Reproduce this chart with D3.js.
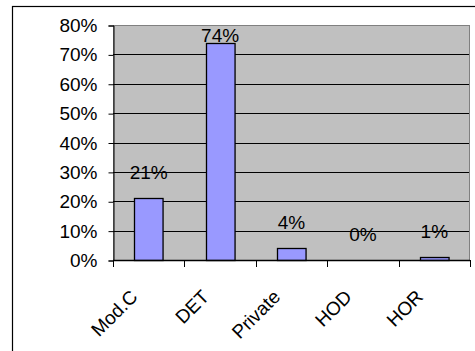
<!DOCTYPE html>
<html>
<head>
<meta charset="utf-8">
<script src="https://cdn.jsdelivr.net/npm/d3@7"></script>
<style>
  html, body { margin: 0; padding: 0; background: #fff; }
  svg { display: block; }
  text { font-family: "Liberation Sans", Arial, sans-serif; fill: #000; }
</style>
</head>
<body>
<svg id="chart" width="475" height="351"></svg>
<script>
// Share of cases by category
const categories = ["Mod.C", "DET", "Private", "HOD", "HOR"];
const values = [0.21, 0.74, 0.04, 0.00, 0.01];
const yTicks = [0, 0.1, 0.2, 0.3, 0.4, 0.5, 0.6, 0.7, 0.8];

const svg = d3.select("#chart");
const W = 475, H = 351;
const plot = { left: 113, top: 25, right: 470, bottom: 260 };
const fontSize = 19;

// outer chart frame (extends past the visible window on the right and bottom)
svg.append("rect")
  .attr("x", 12.5).attr("y", 6.5)
  .attr("width", W + 10).attr("height", H + 10)
  .attr("fill", "#fff").attr("stroke", "#000").attr("stroke-width", 1.2);

const x = d3.scaleBand().domain(categories)
  .range([plot.left, plot.right]).paddingInner(0.6).paddingOuter(0.3);
const xBand = d3.scaleBand().domain(categories).range([plot.left, plot.right]);
const y = d3.scaleLinear().domain([0, 0.8]).range([plot.bottom, plot.top]);

// plot area background
svg.append("rect")
  .attr("x", plot.left + 0.5).attr("y", y(0.8) + 0.5)
  .attr("width", plot.right - plot.left - 1).attr("height", y(0) - y(0.8))
  .attr("fill", "#C0C0C0").attr("stroke", "#808080").attr("stroke-width", 1);

// horizontal gridlines
svg.append("g").selectAll("line")
  .data(yTicks.filter(t => t > 0 && t < 0.8))
  .join("line")
  .attr("x1", plot.left).attr("x2", plot.right - 1)
  .attr("y1", d => Math.round(y(d)) + 0.5).attr("y2", d => Math.round(y(d)) + 0.5)
  .attr("stroke", "#000").attr("stroke-width", 1);

// y axis
const yAxis = d3.axisLeft(y).tickValues(yTicks)
  .tickFormat(d3.format(".0%")).tickSize(5).tickPadding(11);
const gy = svg.append("g")
  .attr("transform", `translate(${plot.left + 0.5},0.5)`)
  .call(yAxis);
gy.select(".domain").attr("stroke", "#000");
gy.selectAll(".tick line").attr("stroke", "#000");
gy.selectAll(".tick text")
  .attr("font-size", fontSize)
  .attr("font-family", "Liberation Sans, Arial, sans-serif")
  .attr("fill", "#000");

// bars
svg.append("g").selectAll("rect")
  .data(values)
  .join("rect")
  .attr("x", (d, i) => Math.round(x(categories[i])) + 0.5)
  .attr("y", d => Math.round(y(d)) + 0.5)
  .attr("width", x.bandwidth())
  .attr("height", d => Math.max(0, y(0) - Math.round(y(d))))
  .attr("fill", "#9999FF").attr("stroke", "#000").attr("stroke-width", 1.3)
  .attr("display", d => d > 0 ? null : "none");

// x axis line with boundary ticks
svg.append("line")
  .attr("x1", plot.left).attr("x2", plot.right)
  .attr("y1", y(0) + 0.5).attr("y2", y(0) + 0.5)
  .attr("stroke", "#000").attr("stroke-width", 1.3);
const boundaries = categories.map(c => xBand(c)).concat([plot.right]);
svg.append("g").selectAll("line")
  .data(boundaries)
  .join("line")
  .attr("x1", d => Math.round(d) + 0.5).attr("x2", d => Math.round(d) + 0.5)
  .attr("y1", y(0)).attr("y2", y(0) + 7)
  .attr("stroke", "#000").attr("stroke-width", 1);

// category labels, rotated
svg.append("g").selectAll("text")
  .data(categories)
  .join("text")
  .attr("transform", c => `translate(${xBand(c) + xBand.bandwidth() / 2 - 10},${y(0) + 38}) rotate(-45)`)
  .attr("text-anchor", "end")
  .attr("font-size", fontSize)
  .text(c => c);

// value labels above bars, kept inside the plot area
svg.append("g").selectAll("text")
  .data(values)
  .join("text")
  .attr("x", (d, i) => x(categories[i]) + x.bandwidth() / 2)
  .attr("y", d => Math.max(y(d) - 19, y(0.8) + 17))
  .attr("text-anchor", "middle")
  .attr("font-size", fontSize)
  .text(d => d3.format(".0%")(d));
</script>
</body>
</html>
